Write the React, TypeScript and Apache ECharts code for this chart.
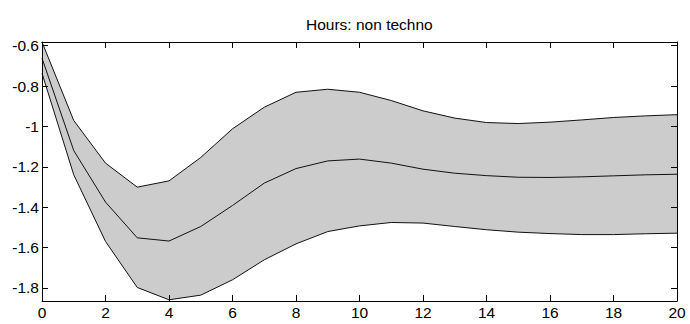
import React, { useEffect, useRef } from "react";
import * as echarts from "echarts";

const steps = ["0", "1", "2", "3", "4", "5", "6", "7", "8", "9", "10", "11", "12", "13", "14", "15", "16", "17", "18", "19", "20"];
const upper = [-0.582, -0.971, -1.182, -1.301, -1.270, -1.154, -1.012, -0.905, -0.831, -0.816, -0.831, -0.872, -0.923, -0.959, -0.981, -0.986, -0.979, -0.968, -0.956, -0.948, -0.942];
const middle = [-0.662, -1.120, -1.375, -1.552, -1.568, -1.496, -1.392, -1.281, -1.209, -1.171, -1.162, -1.182, -1.212, -1.232, -1.244, -1.252, -1.253, -1.250, -1.245, -1.240, -1.237];
const lower = [-0.737, -1.240, -1.570, -1.798, -1.859, -1.836, -1.760, -1.661, -1.582, -1.521, -1.493, -1.476, -1.479, -1.496, -1.512, -1.524, -1.531, -1.536, -1.536, -1.532, -1.529];
const yTicks = [-1.8, -1.6, -1.4, -1.2, -1, -0.8, -0.6];
const yMin = -1.865;
const yMax = -0.582;
const titleText = "Hours: non techno";

const FONT = "'Liberation Sans', Arial, sans-serif";
const FS = 15.5;

export default function App() {
  const ref = useRef<HTMLDivElement>(null);
  useEffect(() => {
    if (!ref.current) return;
    const chart = echarts.init(ref.current, null, { renderer: "svg" });
    const width = upper.map((u, i) => +(u - lower[i]).toFixed(4));
    const tickStyle = { show: true, inside: true, length: 6, lineStyle: { color: "#000", width: 1 } };
    const lineStyleAxis = { show: true, lineStyle: { color: "#000", width: 1 } };
    const xBase = {
      type: "category" as const,
      data: steps,
      boundaryGap: false,
      axisLine: lineStyleAxis,
      axisTick: { ...tickStyle, interval: 1 },
      splitLine: { show: false },
      z: 5,
    };
    const yBase = {
      type: "value" as const,
      min: yMin,
      max: yMax,
      axisLine: lineStyleAxis,
      splitLine: { show: false },
      z: 5,
    };
    chart.setOption({
      animation: false,
      backgroundColor: "#fff",
      title: {
        text: titleText,
        left: 301,
        top: 11,
        textStyle: { fontFamily: FONT, fontSize: FS, fontWeight: "normal", color: "#000" },
      },
      grid: { left: 42, right: 13, top: 42, bottom: 23, containLabel: false },
      xAxis: [
        {
          ...xBase,
          position: "bottom",
          axisLabel: { show: true, interval: 1, margin: 3, color: "#000", fontFamily: FONT, fontSize: FS },
        },
        { ...xBase, position: "top", axisLabel: { show: false } },
      ],
      yAxis: [
        {
          ...yBase,
          position: "left",
          axisTick: { ...tickStyle, customValues: yTicks },
          axisLabel: { show: true, customValues: yTicks, margin: 3, color: "#000", fontFamily: FONT, fontSize: FS },
        },
        {
          ...yBase,
          position: "right",
          axisTick: { ...tickStyle, customValues: yTicks },
          axisLabel: { show: false },
        },
      ],
      series: [
        {
          type: "line",
          data: lower,
          stack: "band",
          stackStrategy: "all",
          symbol: "none",
          silent: true,
          lineStyle: { opacity: 0 },
        },
        {
          type: "line",
          data: width,
          stack: "band",
          stackStrategy: "all",
          symbol: "none",
          silent: true,
          lineStyle: { opacity: 0 },
          areaStyle: { color: "#cccccc", opacity: 1 },
        },
        { type: "line", data: upper, symbol: "none", lineStyle: { color: "#111", width: 1 } },
        { type: "line", data: middle, symbol: "none", lineStyle: { color: "#111", width: 1 } },
        { type: "line", data: lower, symbol: "none", lineStyle: { color: "#111", width: 1 } },
      ],
    });
    return () => chart.dispose();
  }, []);
  return <div ref={ref} style={{ position: "fixed", left: 0, top: 0, width: 690, height: 324 }} />;
}
